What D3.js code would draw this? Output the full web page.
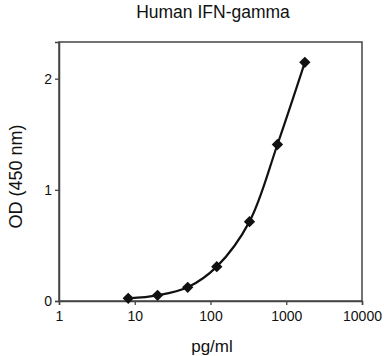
<!DOCTYPE html>
<html><head><meta charset="utf-8">
<script src="https://cdn.jsdelivr.net/npm/d3@7"></script>
<style>body{margin:0;background:#fff}svg{display:block}text{font-family:"Liberation Sans",Arial,sans-serif;fill:#111}</style>
</head><body>
<svg id="c" width="384" height="356"></svg>
<script>
const title = "Human IFN-gamma";
const xLabel = "pg/ml";
const yLabel = "OD (450 nm)";
const conc = [8.2, 20, 50, 121, 327, 765, 1760];
const od = [0.024, 0.051, 0.123, 0.309, 0.714, 1.408, 2.147];
const xTicks = [1, 10, 100, 1000, 10000];
const yTicks = [0, 1, 2];

const svg = d3.select("#c");
const L = 59, R = 362, T = 42, B = 301;
const x = d3.scaleLog().domain([1, 10000]).range([L, R]);
const y = d3.scaleLinear().domain([0, 2.33]).range([B, T]);
const axisColor = "#444";

svg.append("rect").attr("x", L).attr("y", T).attr("width", R - L).attr("height", B - T)
  .attr("fill", "none").attr("stroke", axisColor).attr("stroke-width", 1.5);

const gx = svg.append("g").attr("transform", `translate(0,${B})`)
  .call(d3.axisBottom(x).tickValues(xTicks).tickFormat(d3.format("d")).tickSize(4).tickPadding(6));
const gy = svg.append("g").attr("transform", `translate(${L},0)`)
  .call(d3.axisLeft(y).tickValues(yTicks).tickFormat(d3.format("d")).tickSize(4).tickPadding(3));
[gx, gy].forEach(g => {
  g.select(".domain").attr("stroke", axisColor).attr("stroke-width", 1.5);
  g.selectAll(".tick line").attr("stroke", axisColor).attr("stroke-width", 1.3);
  g.selectAll(".tick text").attr("font-size", 14).attr("fill", "#111")
   .style("font-family", "'Liberation Sans',Arial,sans-serif");
});

const pts = conc.map((c, i) => [c, od[i]]);
svg.append("path").datum(pts)
  .attr("d", d3.line().x(d => x(d[0])).y(d => y(d[1])).curve(d3.curveCatmullRom.alpha(0.5)))
  .attr("fill", "none").attr("stroke", "#111").attr("stroke-width", 2.2);

svg.selectAll(".pt").data(pts).enter().append("path")
  .attr("d", d3.symbol().type(d3.symbolSquare).size(64))
  .attr("transform", d => `translate(${x(d[0])},${y(d[1])}) rotate(45)`)
  .attr("fill", "#111");

svg.append("text").attr("x", 213).attr("y", 17.5).attr("text-anchor", "middle")
  .attr("font-size", 17.5).text(title);
svg.append("text").attr("x", 212).attr("y", 351.5).attr("text-anchor", "middle")
  .attr("font-size", 17).text(xLabel);
svg.append("text").attr("transform", "translate(21.5,176.5) rotate(-90)").attr("text-anchor", "middle")
  .attr("font-size", 18).text(yLabel);
</script>
</body></html>
